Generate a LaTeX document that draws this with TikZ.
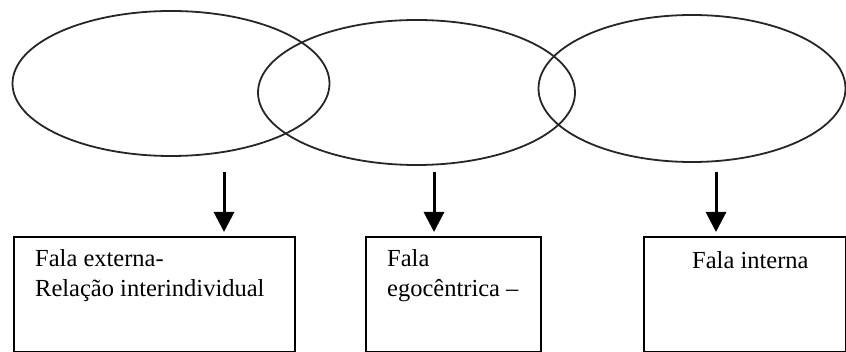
\documentclass[tikz,border=0pt]{standalone}
\usepackage{fontspec}
\setmainfont{Liberation Serif}
\usetikzlibrary{shapes.geometric,arrows.meta}
\begin{document}
\begin{tikzpicture}[x=1pt,y=-1pt,
  oval/.style={draw=black!85,line width=1.8pt,ellipse,inner sep=0pt},
  stagebox/.style={draw=black,line width=1.8pt,rectangle,inner sep=0pt,anchor=north west},
  label/.style={inner sep=0pt,anchor=base west,align=left,font=\fontsize{24.5}{30}\selectfont},
  down/.style={line width=3pt,-{Triangle[width=20pt,length=20pt]},shorten >=4pt}]
\useasboundingbox (0,0) rectangle (846,352);
% ellipses
\node[oval,minimum width=317pt,minimum height=145pt] (e1) at (171,83.5) {};
\node[oval,minimum width=317pt,minimum height=145pt] (e2) at (416.5,92.5) {};
\node[oval,minimum width=307pt,minimum height=147pt] (e3) at (692,88.5) {};
% boxes
\node[stagebox,minimum width=281pt,minimum height=115pt] (b1) at (13,236) {};
\node[stagebox,minimum width=175pt,minimum height=115pt] (b2) at (365,236) {};
\node[stagebox,minimum width=202pt,minimum height=115pt] (b3) at (643,236) {};
% texts (anchored at the baseline of the last line)
\node[label] (t1) at (35,297) {Fala externa-\\Relação interindividual};
\node[label] (t2) at (387,297) {Fala\\egocêntrica –};
\node[label] (t3) at (692,269) {Fala interna};
% arrows
\coordinate (a1) at (224,172);
\coordinate (a2) at (434,172);
\coordinate (a3) at (716,172);
\draw[down] (a1) -- (a1 |- b1.north);
\draw[down] (a2) -- (a2 |- b2.north);
\draw[down] (a3) -- (a3 |- b3.north);
\end{tikzpicture}
\end{document}
